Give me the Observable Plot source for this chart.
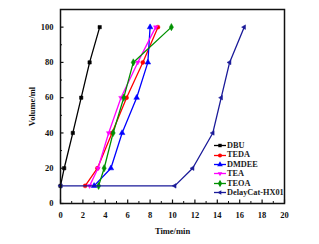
<!DOCTYPE html>
<html><head><meta charset="utf-8">
<script src="https://cdn.jsdelivr.net/npm/d3@7"></script>
<script src="https://cdn.jsdelivr.net/npm/@observablehq/plot@0.6"></script>
<style>
body{margin:0;background:#fff;}
#wrap{position:relative;width:319px;height:244px;}
#legend{position:absolute;left:214px;top:141px;font-family:"Liberation Serif","Times New Roman",serif;font-weight:bold;font-size:8.3px;line-height:9.4px;color:#222;}
.row{display:flex;align-items:center;height:9.4px;}
.row svg{margin-right:1px;}
</style></head>
<body><div id="wrap"><div id="chart"></div><div id="legend"></div></div>
<script>
const seriesNames = ["DBU","TEDA","DMDEE","TEA","TEOA","DelayCat-HX01"];
const colors = ["#000000","#ff0000","#0000ff","#ff00ff","#009100","#1a1a99"];
const dbuX = [0, 0.33, 1.1, 1.85, 2.6, 3.5];
const dbuY = [10, 20, 40, 60, 80, 100];
const tedaX = [2.2, 3.3, 4.6, 5.9, 7.35, 8.7];
const tedaY = [10, 20, 40, 60, 80, 100];
const dmdeeX = [3.0, 4.5, 5.5, 6.8, 7.8, 8.0];
const dmdeeY = [10, 20, 40, 60, 80, 100];
const teaX = [2.6, 3.35, 4.3, 5.4, 6.9, 8.5];
const teaY = [10, 20, 40, 60, 80, 100];
const teoaX = [3.4, 3.9, 4.7, 5.65, 6.5, 9.9];
const teoaY = [10, 20, 40, 60, 80, 100];
const hxX = [0, 10.2, 11.8, 13.6, 14.35, 15.1, 16.4];
const hxY = [10, 10, 20, 40, 60, 80, 100];
const xTicks = [0,2,4,6,8,10,12,14,16,18,20];
const yTicks = [0,20,40,60,80,100];
const xMinor = d3.range(1,20,2);
const yMinor = d3.range(10,111,20);

const triDown = {draw(c,size){const r=Math.sqrt(size)*0.7;c.moveTo(0,r);c.lineTo(r*0.87,-r*0.5);c.lineTo(-r*0.87,-r*0.5);c.closePath();}};
const triLeft = {draw(c,size){const r=Math.sqrt(size)*0.7;c.moveTo(-r,0);c.lineTo(r*0.5,-r*0.87);c.lineTo(r*0.5,r*0.87);c.closePath();}};
const symbols = ["square","circle","triangle",triDown,"diamond",triLeft];
const rs = [1.9,2.0,2.1,2.1,2.2,2.1];

const xs=[dbuX,tedaX,dmdeeX,teaX,teoaX,hxX], ys=[dbuY,tedaY,dmdeeY,teaY,teoaY,hxY];
const data = seriesNames.map((n,i)=>xs[i].map((x,j)=>({series:n,x,y:ys[i][j]})));

const marks = [];
data.forEach((d,i)=>{
  marks.push(Plot.line(d,{x:"x",y:"y",stroke:colors[i],strokeWidth:1.3}));
  marks.push(Plot.dot(d,{x:"x",y:"y",fill:colors[i],stroke:colors[i],strokeWidth:0.5,symbol:symbols[i],r:rs[i]}));
});
const font = "Liberation Serif, Times New Roman, serif";
const plot = Plot.plot({
  width:319, height:244,
  marginLeft:60, marginRight:35, marginTop:9, marginBottom:41,
  style:{fontFamily:font,fontWeight:"bold",fontSize:"8.5px",color:"#111",background:"#fff"},
  x:{domain:[0,20]},
  y:{domain:[0,110]},
  marks:[
    ...marks,
    Plot.axisX(xTicks,{tickSize:0,tickPadding:8,fontSize:8.5,fontWeight:"bold",label:null}),
    Plot.axisX(xTicks,{tickSize:-3.5,tickFormat:()=>"",strokeWidth:1.2,label:null}),
    Plot.axisX(xMinor,{tickSize:-2,tickFormat:()=>"",strokeWidth:1,label:null}),
    Plot.axisY(yTicks,{tickSize:0,tickPadding:7,fontSize:8.5,fontWeight:"bold",label:null}),
    Plot.axisY(yTicks,{tickSize:-3.5,tickFormat:()=>"",strokeWidth:1.2,label:null}),
    Plot.axisY(yMinor,{tickSize:-2,tickFormat:()=>"",strokeWidth:1,label:null}),
    Plot.axisX({ticks:[],label:"Time/min",labelAnchor:"center",labelArrow:"none",labelOffset:30,fontSize:8.5,fontWeight:"bold"}),
    Plot.axisY({ticks:[],label:"Volume/ml",labelAnchor:"center",labelArrow:"none",labelOffset:32,fontSize:8.5,fontWeight:"bold"}),
    Plot.frame({stroke:"#111",strokeWidth:1.5})
  ]
});
document.getElementById("chart").appendChild(plot);

const leg = d3.select("#legend");
seriesNames.forEach((n,i)=>{
  const row = leg.append("div").attr("class","row");
  const s = row.append("svg").attr("width",12).attr("height",9);
  s.append("line").attr("x1",0).attr("x2",12).attr("y1",4.5).attr("y2",4.5).attr("stroke",colors[i]).attr("stroke-width",1.3);
  const sym = typeof symbols[i]==="string" ? {square:d3.symbolSquare,circle:d3.symbolCircle,triangle:d3.symbolTriangle,diamond:d3.symbolDiamond}[symbols[i]] : symbols[i];
  s.append("path").attr("transform","translate(6,4.5)").attr("d",d3.symbol(sym,rs[i]*rs[i]*3.2)()).attr("fill",colors[i]);
  row.append("span").text(n);
});
</script></body></html>
